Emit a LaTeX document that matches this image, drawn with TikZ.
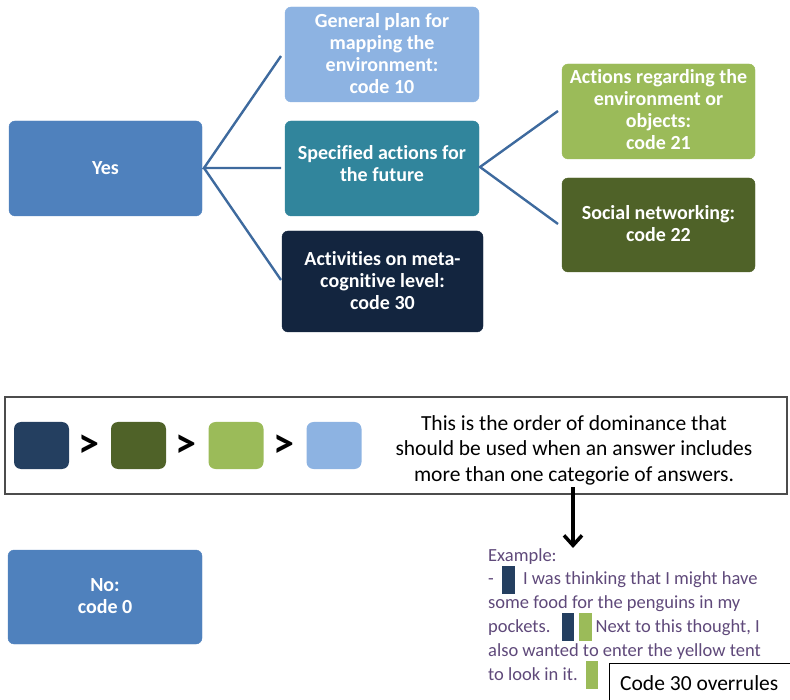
\documentclass[tikz,border=0pt]{standalone}
\usepackage{fontspec}
\setmainfont{Carlito}[Ligatures=NoCommon]
\usetikzlibrary{arrows.meta}
\definecolor{midblue}{HTML}{4F81BD}
\definecolor{lightblue}{HTML}{8DB3E2}
\definecolor{teal}{HTML}{31859C}
\definecolor{navy}{HTML}{13253F}
\definecolor{navyswatch}{HTML}{243F60}
\definecolor{lightgreen}{HTML}{9BBB59}
\definecolor{darkgreen}{HTML}{4F6228}
\definecolor{linkblue}{HTML}{3E6A9E}
\definecolor{purpletext}{HTML}{5F497A}
\tikzset{
  catbox/.style={rounded corners=6pt, text=white, align=center,
    font=\fontsize{20}{22}\selectfont\bfseries, inner sep=0pt},
  swatch/.style={rounded corners=7pt, minimum width=55pt, minimum height=47pt, inner sep=0pt},
  link/.style={draw=linkblue, line width=2.4pt},
  gt/.style={font=\fontsize{42}{42}\selectfont\bfseries, inner sep=0pt}
}
\newcommand{\codemark}[1]{\smash{\textcolor{#1}{\rule[-9pt]{12.5pt}{28pt}}}}
\begin{document}
\begin{tikzpicture}[x=1pt,y=-1pt]
\useasboundingbox (0,0) rectangle (790,700);
% category tree
\filldraw[midblue, rounded corners=6pt] (9,121) rectangle (202,216);
\node[catbox] (yes) at (105.5,168.5) {Yes};
\coordinate (yesR) at (204,168);
\filldraw[lightblue, rounded corners=6pt] (285,7) rectangle (479,102);
\node[catbox] (gen) at (382,54) {General plan for\\mapping the\\environment:\\code 10};
\coordinate (genL) at (281,56);
\filldraw[teal, rounded corners=6pt] (285,121) rectangle (479,216);
\node[catbox] (spec) at (382,164) {Specified actions for\\the future};
\coordinate (specL) at (281,168);
\coordinate (specR) at (480,167);
\filldraw[navy, rounded corners=6pt] (282,231) rectangle (483,332);
\node[catbox] (meta) at (382.5,281) {Activities on meta-\\cognitive level:\\code 30};
\coordinate (metaL) at (281,280);
\filldraw[lightgreen, rounded corners=6pt] (562,64) rectangle (755,159);
\node[catbox] (env) at (658.5,110) {Actions regarding the\\environment or\\objects:\\code 21};
\coordinate (envL) at (558,111);
\filldraw[darkgreen, rounded corners=6pt] (562,178) rectangle (755,272);
\node[catbox] (soc) at (658.5,224) {Social networking:\\code 22};
\coordinate (socL) at (558,224);
\draw[link] (genL) -- (yesR) -- (specL);
\draw[link] (yesR) -- (metaL);
\draw[link] (envL) -- (specR) -- (socL);
% order of dominance
\draw[draw=black!70, line width=1.2pt] (5,397) rectangle (787,494);
\node[swatch, fill=navyswatch] (s1) at (41.5,445.5) {};
\node[gt] at (89,446) {>};
\node[swatch, fill=darkgreen] (s2) at (138.5,445.5) {};
\node[gt] at (186,446) {>};
\node[swatch, fill=lightgreen] (s3) at (236,445.5) {};
\node[gt] at (284,446) {>};
\node[swatch, fill=lightblue] (s4) at (334,445.5) {};
\node[align=center, font=\fontsize{21.5}{25.5}\selectfont, inner sep=0pt] (order) at (574,450)
  {This is the order of dominance that\\should be used  when an answer includes\\more than one categorie of answers.};
\coordinate (arrS) at (573,487);
\coordinate (arrE) at (573,548);
\draw[line width=4pt, -{Straight Barb[length=10pt,width=18pt,line width=3.5pt]}] (arrS) -- (arrE);
% no answer
\filldraw[midblue, rounded corners=6pt] (8,550) rectangle (202,644);
\node[catbox] (no) at (105,596) {No:\\code 0};
% example
\node[anchor=north west, align=left, inner sep=0pt, text=purpletext,
  font=\fontsize{18.5}{23.8}\selectfont] (ex) at (488,548)
  {Example:\\
   -~ \codemark{navyswatch}~ I was thinking that I might have\\
   some food for the penguins in my\\
   pockets.\hspace{11pt}\codemark{navyswatch}\hspace{5pt}\codemark{lightgreen}~Next to this thought, I\\
   also wanted to enter the yellow tent\\
   to look in it.\hspace{8pt}\codemark{lightgreen}};
\draw[line width=1pt] (792,663) -- (609,663) -- (609,702);
\node[anchor=west, inner sep=0pt, font=\fontsize{21.5}{22}\selectfont] (over) at (620,683) {Code 30 overrules};
\end{tikzpicture}
\end{document}
